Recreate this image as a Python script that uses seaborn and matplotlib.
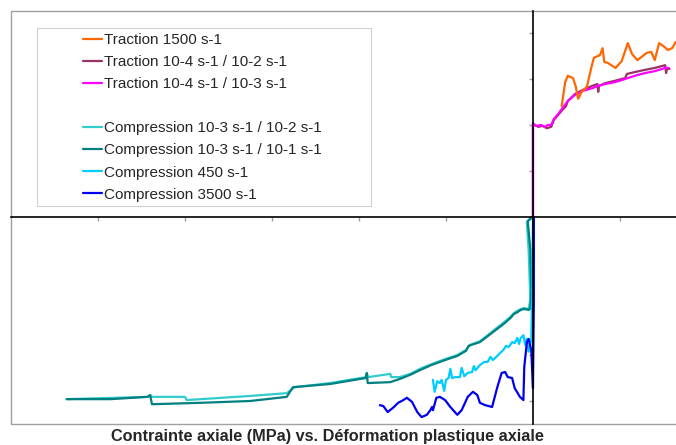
import pandas as pd
import matplotlib
matplotlib.use('Agg')
import matplotlib.pyplot as plt
from matplotlib.lines import Line2D
from matplotlib.patches import Rectangle
import seaborn as sns

# strain (x) / stress in MPa (y)
trac_1500_x = [0.033, 0.037, 0.040, 0.046, 0.049, 0.052, 0.056, 0.062, 0.067, 0.070, 0.077, 0.080,
               0.082, 0.086, 0.095, 0.102, 0.109, 0.114, 0.120, 0.131, 0.136, 0.140, 0.145, 0.151,
               0.155, 0.160, 0.164, 0.169]
trac_1500_y = [241, 293, 307, 302, 285, 257, 272, 283, 324, 346, 352, 367,
               337, 335, 324, 339, 378, 354, 341, 357, 359, 341, 378, 370,
               363, 367, 380, 385]

trac_42_x = [0, 0, 0.006, 0.011, 0.016, 0.021, 0.024, 0.029, 0.034, 0.038, 0.040, 0.048, 0.057,
             0.068, 0.074, 0.075, 0.076, 0.083, 0.094, 0.106, 0.108, 0.117, 0.129, 0.140, 0.152,
             0.153, 0.154, 0.157]
trac_42_y = [0, 202, 196, 198, 193, 196, 211, 222, 233, 241, 252, 267, 276,
             285, 289, 272, 285, 291, 296, 302, 311, 315, 320, 324, 330,
             313, 322, 322]

trac_43_x = [0, 0, 0.003, 0.009, 0.014, 0.017, 0.021, 0.024, 0.029, 0.034, 0.040, 0.048, 0.057,
             0.068, 0.075, 0.083, 0.094, 0.106, 0.117, 0.129, 0.140, 0.152, 0.156]
trac_43_y = [0, 204, 198, 200, 196, 200, 200, 213, 224, 237, 252, 265, 274,
             280, 285, 289, 293, 300, 307, 313, 317, 324, 324]

comp_32_x = [-0.536, -0.443, -0.439, -0.438, -0.400, -0.398, -0.325, -0.283, -0.274, -0.233,
             -0.192, -0.191, -0.189, -0.164, -0.163, -0.153, -0.141, -0.130, -0.117, -0.101,
             -0.087, -0.077, -0.072, -0.061, -0.052, -0.043, -0.034, -0.026, -0.022, -0.018,
             -0.014, -0.010, -0.005, -0.003, -0.005, -0.007, -0.002]
comp_32_y = [-396, -391, -389, -391, -391, -398, -389, -383, -370, -361,
             -348, -341, -348, -341, -348, -348, -341, -330, -320, -309,
             -300, -289, -278, -270, -257, -243, -230, -217, -209, -204,
             -200, -198, -200, -180, -72, -11, 0]

comp_31_x = [-0.536, -0.486, -0.443, -0.440, -0.438, -0.383, -0.325, -0.283, -0.276, -0.233,
             -0.192, -0.191, -0.190, -0.164, -0.153, -0.141, -0.130, -0.117, -0.101, -0.087,
             -0.077, -0.074, -0.061, -0.052, -0.043, -0.034, -0.026, -0.022, -0.018, -0.014,
             -0.010, -0.005, -0.003, -0.002, -0.003, -0.006, 0]
comp_31_y = [-396, -396, -391, -387, -407, -404, -400, -391, -370, -363,
             -350, -339, -361, -359, -352, -343, -333, -322, -311, -302,
             -291, -280, -272, -259, -246, -233, -220, -211, -207, -202,
             -200, -202, -198, -159, -72, -9, 0]

comp_450_x = [-0.115, -0.113, -0.110, -0.107, -0.105, -0.102, -0.100, -0.097, -0.095, -0.093,
              -0.089, -0.084, -0.082, -0.079, -0.075, -0.070, -0.068, -0.066, -0.061, -0.056,
              -0.052, -0.049, -0.046, -0.041, -0.038, -0.034, -0.031, -0.028, -0.024, -0.021,
              -0.018, -0.016, -0.014, -0.011, -0.009, -0.007, -0.005, -0.002, -0.001, 0]
comp_450_y = [-354, -380, -357, -361, -354, -378, -354, -350, -330, -350,
              -348, -348, -328, -346, -339, -337, -324, -333, -322, -315,
              -315, -304, -311, -302, -296, -289, -280, -283, -272, -274,
              -263, -276, -263, -257, -278, -265, -293, -267, -180, 0]

comp_3500_x = [-0.176, -0.172, -0.167, -0.161, -0.155, -0.149, -0.145, -0.139, -0.133, -0.128,
               -0.122, -0.118, -0.116, -0.115, -0.111, -0.107, -0.101, -0.095, -0.087, -0.082,
               -0.075, -0.069, -0.064, -0.061, -0.055, -0.047, -0.041, -0.036, -0.032, -0.029,
               -0.024, -0.021, -0.015, -0.011, -0.010, -0.007, -0.005, -0.002, 0.0, 0.001, 0.001]
comp_3500_y = [-409, -411, -424, -415, -404, -398, -393, -402, -424, -435,
               -430, -420, -413, -420, -393, -391, -398, -413, -430, -420,
               -391, -380, -387, -404, -409, -413, -370, -339, -337, -348,
               -350, -372, -391, -398, -326, -272, -265, -289, -372, -180, 0]

series = [
    ('Compression 10-3 s-1 / 10-2 s-1', comp_32_x, comp_32_y, '#33CCCC'),
    ('Compression 10-3 s-1 / 10-1 s-1', comp_31_x, comp_31_y, '#008080'),
    ('Compression 450 s-1', comp_450_x, comp_450_y, '#00CCFF'),
    ('Compression 3500 s-1', comp_3500_x, comp_3500_y, '#0000EE'),
    ('Traction 10-4 s-1 / 10-2 s-1', trac_42_x, trac_42_y, '#993366'),
    ('Traction 10-4 s-1 / 10-3 s-1', trac_43_x, trac_43_y, '#FF00FF'),
    ('Traction 1500 s-1', trac_1500_x, trac_1500_y, '#FF6600'),
]

sns.set_style('white')
plt.rcParams['font.family'] = ['Liberation Sans', 'DejaVu Sans']

fig = plt.figure(figsize=(6.76, 4.45), dpi=100)
ax = fig.add_axes([11 / 676, 21 / 445, 685 / 676, 413 / 445])

for name, xs, ys, col in series:
    df = pd.DataFrame({'x': xs, 'y': ys})
    sns.lineplot(data=df, x='x', y='y', sort=False, estimator=None, color=col,
                 linewidth=1.6, ax=ax, legend=False)

ax.set_xlim(-0.6, 0.1874)
ax.set_ylim(-450, 447.8)
ax.set_xlabel('')
ax.set_ylabel('')

# axes crossing at zero, grey outer frame
for side in ['top', 'right']:
    ax.spines[side].set_visible(False)
for side in ['left', 'bottom']:
    ax.spines[side].set_position(('data', 0))
    ax.spines[side].set_color('black')
    ax.spines[side].set_linewidth(1.2)
ax.add_patch(Rectangle((0, 0), 1, 1, transform=ax.transAxes, fill=False,
                       edgecolor='#a0a0a0', linewidth=1.0, clip_on=False))

ax.set_xticks([-0.5, -0.4, -0.3, -0.2, -0.1, 0.1])
ax.set_yticks([-400, -300, -200, -100, 100, 200, 300, 400])
ax.tick_params(axis='both', direction='out', length=3, width=1, color='#a0a0a0',
               labelbottom=False, labelleft=False, bottom=True, left=True)

# legend: traction group, blank row, compression group
order = ['Traction 1500 s-1', 'Traction 10-4 s-1 / 10-2 s-1', 'Traction 10-4 s-1 / 10-3 s-1',
         None,
         'Compression 10-3 s-1 / 10-2 s-1', 'Compression 10-3 s-1 / 10-1 s-1',
         'Compression 450 s-1', 'Compression 3500 s-1']
colors = {name: col for name, _, _, col in series}
handles = []
for name in order:
    if name is None:
        handles.append(Line2D([], [], color='none', label=' '))
    else:
        handles.append(Line2D([], [], color=colors[name], linewidth=1.6, label=name))
fig.legend(handles=handles, loc='upper left', bbox_to_anchor=(83 / 676, 1 - 33 / 445),
           frameon=False, borderpad=0, borderaxespad=0, handlelength=1.25,
           handletextpad=0.12, labelspacing=0.53, fontsize=11)
fig.add_artist(Rectangle((37 / 676, 1 - 206 / 445), 334 / 676, 178 / 445,
                         transform=fig.transFigure, fill=False,
                         edgecolor='#d0d0d0', linewidth=0.8))

fig.text(327 / 676, 1 - 436 / 445, 'Contrainte axiale (MPa) vs. Déformation plastique axiale',
         ha='center', va='center', fontweight='bold', fontsize=11.7)

fig.savefig('out.png', dpi=100)
